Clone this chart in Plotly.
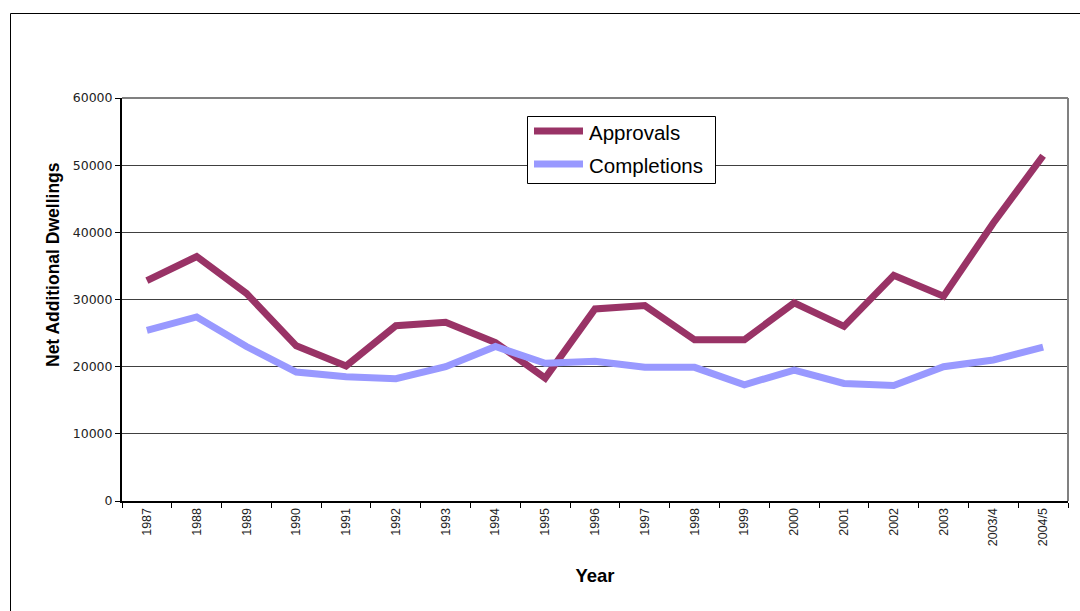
import plotly.graph_objects as go

# Net additional dwellings by year
years = ["1987", "1988", "1989", "1990", "1991", "1992", "1993", "1994", "1995",
         "1996", "1997", "1998", "1999", "2000", "2001", "2002", "2003",
         "2003/4", "2004/5"]
approvals = [32800, 36400, 30900, 23100, 20100, 26100, 26600, 23600, 18300,
             28600, 29100, 24000, 24000, 29500, 26000, 33600, 30500,
             41400, 51400]
completions = [25400, 27400, 23000, 19200, 18500, 18200, 20000, 23000, 20500,
               20800, 19900, 19900, 17300, 19500, 17500, 17200, 20000,
               21000, 22900]
y_ticks = [0, 10000, 20000, 30000, 40000, 50000, 60000]

series = [("Approvals", approvals, "#993366"),
          ("Completions", completions, "#9999FF")]

W, H = 1080, 611
ML, MR, MT, MB = 122, 12, 98, 110
PW, PH = W - ML - MR, H - MT - MB


def px_x(px):
    return (px - ML) / PW


def px_y(py):
    return (MT + PH - py) / PH


fig = go.Figure()
for name, vals, color in series:
    fig.add_trace(go.Scatter(
        x=years, y=vals, mode="lines", name=name, showlegend=False,
        line=dict(color=color, width=7)))

# outer chart frame
fig.add_shape(type="rect", xref="paper", yref="paper",
              x0=px_x(10.5), x1=px_x(W + 20), y0=px_y(H + 20), y1=px_y(13.5),
              line=dict(color="#000000", width=1), layer="below")
# plot area border (top and right in grey)
fig.add_shape(type="line", xref="paper", yref="paper", x0=0, x1=1, y0=1, y1=1,
              line=dict(color="#808080", width=2))
fig.add_shape(type="line", xref="paper", yref="paper", x0=1, x1=1, y0=0, y1=1,
              line=dict(color="#808080", width=2))

# legend box with long line keys
fig.add_shape(type="rect", xref="paper", yref="paper",
              x0=px_x(527.5), x1=px_x(715.5), y0=px_y(183.5), y1=px_y(116.5),
              fillcolor="white", line=dict(color="#000000", width=1),
              layer="above")
for i, (name, vals, color) in enumerate(series):
    ky = 131 + i * 33
    fig.add_shape(type="line", xref="paper", yref="paper",
                  x0=px_x(534), x1=px_x(583), y0=px_y(ky), y1=px_y(ky),
                  line=dict(color=color, width=7), layer="above")
    fig.add_annotation(xref="paper", yref="paper", x=px_x(587), y=px_y(ky + 1),
                       xanchor="left", yanchor="middle", showarrow=False,
                       text=name,
                       font=dict(family="Liberation Sans, Arial", size=20.5,
                                 color="#000"))

# y axis title
fig.add_annotation(xref="paper", yref="paper", x=px_x(53), y=px_y(265),
                   xanchor="center", yanchor="middle", showarrow=False,
                   textangle=-90, text="Net Additional Dwellings",
                   font=dict(family="Liberation Sans, Arial", size=17.5,
                             color="#000", weight="bold"))

fig.update_layout(
    width=W, height=H,
    margin=dict(l=ML, r=MR, t=MT, b=MB, pad=0),
    paper_bgcolor="white", plot_bgcolor="white",
    showlegend=False,
    xaxis=dict(
        type="category", showgrid=False, zeroline=False,
        showline=True, linecolor="#000000", linewidth=2,
        ticks="outside", ticklen=5, tickcolor="#000000", tickwidth=1,
        tickson="boundaries", tickangle=-90,
        tickfont=dict(family="Liberation Sans, Arial", size=12.5, color="#222"),
        range=[-0.5, len(years) - 0.5],
        title=dict(text="Year", standoff=24,
                   font=dict(family="Liberation Sans, Arial", size=18.5,
                             color="#000", weight="bold")),
    ),
    yaxis=dict(
        range=[0, 60000], tickvals=y_ticks,
        ticktext=[str(v) for v in y_ticks],
        showgrid=True, gridcolor="#404040", gridwidth=1,
        zeroline=False, showline=True, linecolor="#000000", linewidth=2,
        ticks="outside", ticklen=5, tickcolor="#000000", tickwidth=1,
        tickfont=dict(family="DejaVu Sans", size=12.5, color="#222"),
    ),
)

fig.write_html("out.html")
